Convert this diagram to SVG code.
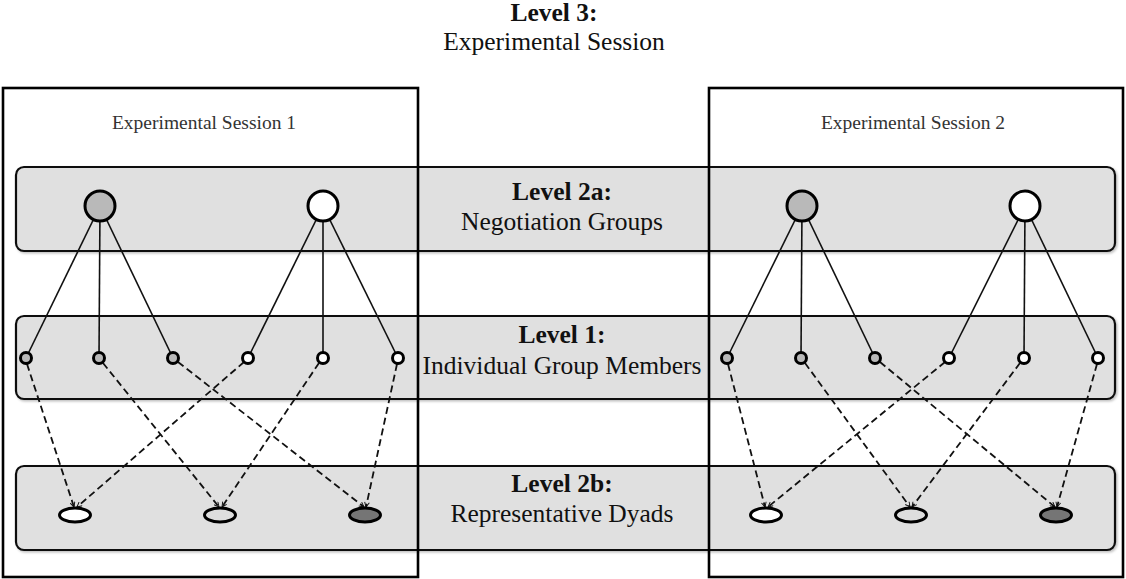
<svg xmlns="http://www.w3.org/2000/svg" width="1126" height="579" viewBox="0 0 1126 579">
  <defs>
    <style>
      .band { fill: #e0e0e0; stroke: #111; stroke-width: 2.2; }
      .session { fill: none; stroke: #000; stroke-width: 2.6; }
      .tie { stroke: #111; stroke-width: 1.6; fill: none; }
      .rep { stroke: #111; stroke-width: 1.8; fill: none; stroke-dasharray: 7 4; marker-end: url(#arrow); }
      .node { stroke: #000; stroke-width: 3; }
      .grey { fill: #b9b9b9; }
      .white { fill: #ffffff; }
      .pale { fill: #dedede; }
      .dark { fill: #757575; }
      .lvl-b { font-family: "Liberation Serif", "Times New Roman", serif; font-size: 25.5px; font-weight: bold; fill: #111; text-anchor: middle; }
      .lvl { font-family: "Liberation Serif", "Times New Roman", serif; font-size: 25.5px; fill: #111; text-anchor: middle; }
      .sess { font-family: "Liberation Serif", "Times New Roman", serif; font-size: 19.5px; fill: #333; text-anchor: middle; }
    </style>
    <marker id="arrow" viewBox="0 0 10 10" refX="9" refY="5" markerWidth="6" markerHeight="6" markerUnits="userSpaceOnUse" orient="auto">
      <path d="M1,1 L9,5 L1,9" fill="none" stroke="#111" stroke-width="1.6"/>
    </marker>
    <filter id="shadow" x="-5%" y="-20%" width="110%" height="140%">
      <feDropShadow dx="1.5" dy="1.5" stdDeviation="1" flood-color="#000" flood-opacity="0.25"/>
    </filter>
  </defs>

  <rect width="1126" height="579" fill="#fff"/>

  <!-- level bands -->
  <g id="band-2a"><rect class="band" x="16" y="167" width="1099" height="84" rx="8" filter="url(#shadow)"/></g>
  <g id="band-1"><rect class="band" x="16" y="316" width="1099" height="83" rx="8" filter="url(#shadow)"/></g>
  <g id="band-2b"><rect class="band" x="16" y="466" width="1099" height="84" rx="8" filter="url(#shadow)"/></g>

  <!-- session frames -->
  <g id="session-1"><rect class="session" x="3" y="88" width="415" height="489"/></g>
  <g id="session-2"><rect class="session" x="709" y="88" width="414" height="489"/></g>

  <!-- titles -->
  <g id="title-level3">
    <text class="lvl-b" x="554" y="21">Level 3:</text>
    <text class="lvl" x="554" y="50">Experimental Session</text>
  </g>
  <g id="label-session1"><text class="sess" x="204" y="129">Experimental Session 1</text></g>
  <g id="label-session2"><text class="sess" x="913" y="129">Experimental Session 2</text></g>
  <g id="title-level2a">
    <text class="lvl-b" x="562" y="200">Level 2a:</text>
    <text class="lvl" x="562" y="230">Negotiation Groups</text>
  </g>
  <g id="title-level1">
    <text class="lvl-b" x="562" y="343">Level 1:</text>
    <text class="lvl" x="562" y="374">Individual Group Members</text>
  </g>
  <g id="title-level2b">
    <text class="lvl-b" x="562" y="492">Level 2b:</text>
    <text class="lvl" x="562" y="522">Representative Dyads</text>
  </g>

  <!-- connectors -->
  <g id="connectors">
    <!-- session 1: group membership -->
    <line class="tie" x1="100" y1="206" x2="26" y2="358"/>
    <line class="tie" x1="100" y1="206" x2="99" y2="358"/>
    <line class="tie" x1="100" y1="206" x2="173" y2="358"/>
    <line class="tie" x1="323" y1="206" x2="248" y2="358"/>
    <line class="tie" x1="323" y1="206" x2="323" y2="358"/>
    <line class="tie" x1="323" y1="206" x2="398" y2="358"/>
    <!-- session 1: dyad representation -->
    <line class="rep" x1="27" y1="364" x2="74" y2="507"/>
    <line class="rep" x1="103" y1="363" x2="219" y2="507"/>
    <line class="rep" x1="178" y1="362" x2="364" y2="507"/>
    <line class="rep" x1="244" y1="362" x2="77" y2="507"/>
    <line class="rep" x1="319" y1="363" x2="222" y2="507"/>
    <line class="rep" x1="397" y1="364" x2="366" y2="507"/>

    <!-- session 2: group membership -->
    <line class="tie" x1="802" y1="206" x2="727" y2="358"/>
    <line class="tie" x1="802" y1="206" x2="801" y2="358"/>
    <line class="tie" x1="802" y1="206" x2="875" y2="358"/>
    <line class="tie" x1="1025" y1="206" x2="949" y2="358"/>
    <line class="tie" x1="1025" y1="206" x2="1024" y2="358"/>
    <line class="tie" x1="1025" y1="206" x2="1098" y2="358"/>
    <!-- session 2: dyad representation -->
    <line class="rep" x1="728" y1="364" x2="765" y2="507"/>
    <line class="rep" x1="805" y1="363" x2="910" y2="507"/>
    <line class="rep" x1="880" y1="362" x2="1055" y2="507"/>
    <line class="rep" x1="945" y1="362" x2="768" y2="507"/>
    <line class="rep" x1="1020" y1="363" x2="912" y2="507"/>
    <line class="rep" x1="1097" y1="364" x2="1057" y2="507"/>
  </g>

  <!-- session 1 nodes -->
  <g id="s1-group-a"><circle class="node grey" cx="100" cy="206" r="15"/></g>
  <g id="s1-group-b"><circle class="node white" cx="323" cy="206" r="15"/></g>
  <g id="s1-member-1"><circle class="node grey" cx="26" cy="358" r="5.5"/></g>
  <g id="s1-member-2"><circle class="node grey" cx="99" cy="358" r="5.5"/></g>
  <g id="s1-member-3"><circle class="node grey" cx="173" cy="358" r="5.5"/></g>
  <g id="s1-member-4"><circle class="node white" cx="248" cy="358" r="5.5"/></g>
  <g id="s1-member-5"><circle class="node white" cx="323" cy="358" r="5.5"/></g>
  <g id="s1-member-6"><circle class="node white" cx="398" cy="358" r="5.5"/></g>
  <g id="s1-dyad-1"><ellipse class="node white" cx="75" cy="515" rx="15.5" ry="7"/></g>
  <g id="s1-dyad-2"><ellipse class="node pale" cx="220" cy="515" rx="15.5" ry="7"/></g>
  <g id="s1-dyad-3"><ellipse class="node dark" cx="365" cy="515" rx="15.5" ry="7"/></g>

  <!-- session 2 nodes -->
  <g id="s2-group-a"><circle class="node grey" cx="802" cy="206" r="15"/></g>
  <g id="s2-group-b"><circle class="node white" cx="1025" cy="206" r="15"/></g>
  <g id="s2-member-1"><circle class="node grey" cx="727" cy="358" r="5.5"/></g>
  <g id="s2-member-2"><circle class="node grey" cx="801" cy="358" r="5.5"/></g>
  <g id="s2-member-3"><circle class="node grey" cx="875" cy="358" r="5.5"/></g>
  <g id="s2-member-4"><circle class="node white" cx="949" cy="358" r="5.5"/></g>
  <g id="s2-member-5"><circle class="node white" cx="1024" cy="358" r="5.5"/></g>
  <g id="s2-member-6"><circle class="node white" cx="1098" cy="358" r="5.5"/></g>
  <g id="s2-dyad-1"><ellipse class="node white" cx="766" cy="515" rx="15.5" ry="7"/></g>
  <g id="s2-dyad-2"><ellipse class="node pale" cx="911" cy="515" rx="15.5" ry="7"/></g>
  <g id="s2-dyad-3"><ellipse class="node dark" cx="1056" cy="515" rx="15.5" ry="7"/></g>
</svg>
